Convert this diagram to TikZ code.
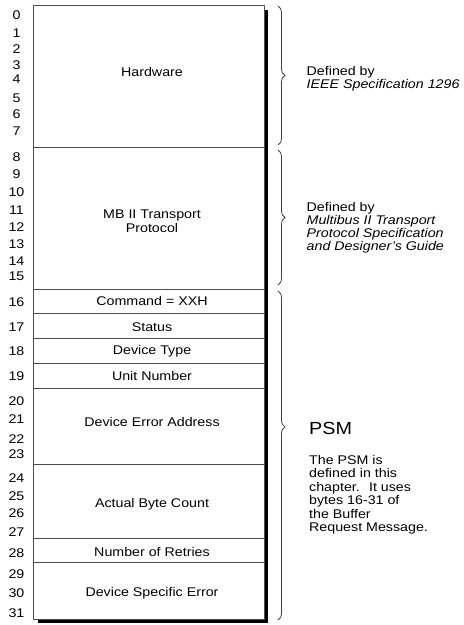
\documentclass[tikz,border=0pt]{standalone}
\usepackage{fontspec}
\setmainfont{Liberation Sans}[FakeStretch=1.13]
\usetikzlibrary{decorations.pathreplacing}

\tikzset{
  field/.style={font=\fontsize{12.6bp}{14bp}\selectfont, inner sep=0pt, anchor=mid, align=center},
  bytenum/.style={font=\fontsize{12.6bp}{14bp}\selectfont, inner sep=0pt},
  note/.style={font=\fontsize{12.6bp}{13bp}\selectfont, inner sep=0pt, anchor=north west, align=left},
  rowline/.style={draw=black!70, line width=0.8bp},
  bracket/.style={draw=black!75, line width=0.8bp, decorate, decoration={brace, amplitude=7bp, #1}},
  bracket/.default={aspect=0.5}
}

\begin{document}
\begin{tikzpicture}[x=1bp, y=-1bp]
\useasboundingbox (0,0) rectangle (464,625);

% Shadow and frame
\draw[line width=3bp] (266,10) -- (266,621) -- (38,621);
\draw[rowline] (33,5) rectangle (264,619);

% Field boundaries
\foreach \y in {147, 289, 313, 338, 363, 388, 464, 538, 562} {
    \draw[rowline] (33,\y) -- (264,\y);
}

% Byte numbers
\foreach \y/\ytext in {15/0, 33/1, 49/2, 65/3, 79/4, 98/5, 114/6, 131/7,
                       157/8, 174/9, 192/10, 210/11, 227/12, 244/13, 261/14, 276/15,
                       302/16, 327/17, 351/18, 376/19, 401/20, 419/21, 439/22, 454/23,
                       478/24, 496/25, 513/26, 532/27, 553/28, 574/29, 593/30, 613/31} {
    \node[bytenum] (b\ytext) at (16.5,\y) {\ytext};
}

% Fields
\node[field] (hw)  at (152,74)    {Hardware};
\node[field, anchor=center] (mb) at (152,221) {MB II Transport\\Protocol};
\node[field] (cmd) at (152,302.5) {Command = XXH};
\node[field] (st)  at (152,328.5) {Status};
\node[field] (dt)  at (152,352)   {Device Type};
\node[field] (un)  at (152,377.5) {Unit Number};
\node[field] (dea) at (152,424)   {Device Error Address};
\node[field] (abc) at (152,505)   {Actual Byte Count};
\node[field] (nr)  at (152,554)   {Number of Retries};
\node[field] (dse) at (152,594)   {Device Specific Error};

% Braces
\draw[bracket] (278,6) -- (278,145);
\draw[bracket] (278,150) -- (278,285);
\draw[bracket={aspect=0.413}] (278,291) -- (278,620);

% Notes
\node[note] (ieee) at (306.5,66) {Defined by\\\textit{IEEE Specification 1296}};
\node[note] (mbtp) at (306.5,202) {Defined by\\\textit{Multibus II Transport}\\\textit{Protocol Specification}\\\textit{and Designer's Guide}};
\node[note, font=\fontsize{17.5bp}{20bp}\selectfont] (psm) at (309,422.5) {PSM};
\node[note, font=\fontsize{12.6bp}{13.5bp}\selectfont] (psmtxt) at (309,455) {The PSM is\\defined in this\\chapter.~ It uses\\bytes 16-31 of\\the Buffer\\Request Message.};
\end{tikzpicture}
\end{document}
